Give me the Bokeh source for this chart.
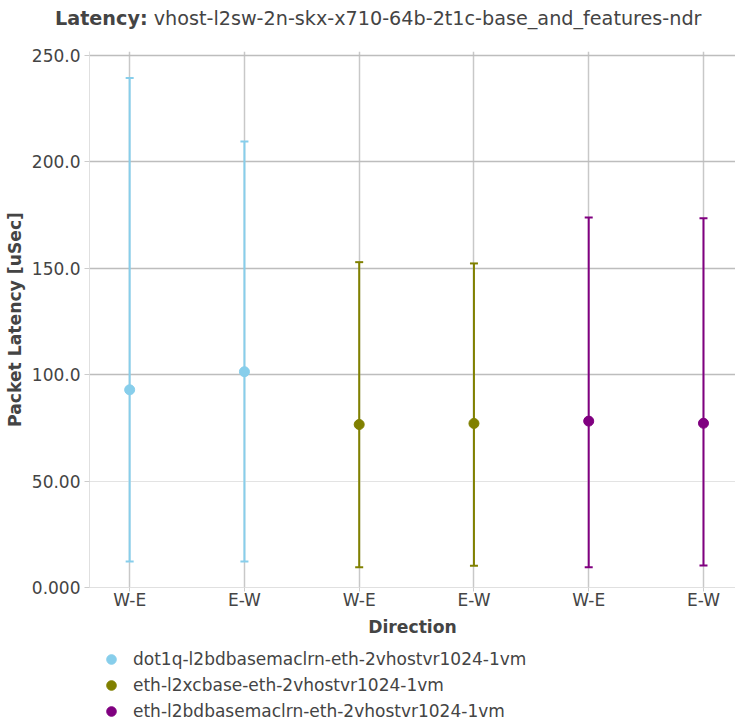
from bokeh.plotting import figure
from bokeh.models import Range1d, FixedTicker, Grid, Legend, LegendItem, ColumnDataSource, Div
from bokeh.layouts import column
from bokeh.embed import file_html
from bokeh.resources import INLINE

# ---- data ----
directions = ["W-E", "E-W"]
series_names = [
    "dot1q-l2bdbasemaclrn-eth-2vhostvr1024-1vm",
    "eth-l2xcbase-eth-2vhostvr1024-1vm",
    "eth-l2bdbasemaclrn-eth-2vhostvr1024-1vm",
]
series_colors = ["#87ceeb", "#808000", "#800080"]
avg_dot1q = [92.9, 101.4]
min_dot1q = [12.2, 12.2]
max_dot1q = [239.4, 209.6]
avg_l2xc = [76.6, 77.1]
min_l2xc = [9.5, 10.2]
max_l2xc = [152.9, 152.3]
avg_l2bd = [78.2, 77.2]
min_l2bd = [9.5, 10.3]
max_l2bd = [173.9, 173.5]
y_ticks = [0, 50, 100, 150, 200, 250]
y_tick_labels = ["0.000", "50.00", "100.0", "150.0", "200.0", "250.0"]
title_bold = "Latency:"
title_rest = "vhost-l2sw-2n-skx-x710-64b-2t1c-base_and_features-ndr"
x_title = "Direction"
y_title = "Packet Latency [uSec]"

FONT = "DejaVu Sans"
TXT = "#444444"
TICK_FS = "17px"
AXIS_FS = "17.2px"
LEG_FS = "17px"

W, H = 735, 723
TITLE_H = 38          # title strip
MAIN_BOTTOM = 640     # page y where the main figure ends and legend strip starts
x_lo, x_hi = -0.35, 5.279
y_lo, y_hi = 0.0, 251.9
# frame in page pixels
FL, FR, FT, FB = 89, 735, 51, 587

title_div = Div(
    text=(f'<div style="white-space:nowrap;font-family:\'{FONT}\';font-size:19.2px;'
          f'color:{TXT};line-height:{TITLE_H}px;padding-left:55px">'
          f'<b>{title_bold}</b> {title_rest}</div>'),
    width=W, height=TITLE_H, margin=0)

p = figure(width=W, height=MAIN_BOTTOM - TITLE_H, output_backend="svg",
           toolbar_location=None, title_location=None,
           x_range=Range1d(x_lo, x_hi), y_range=Range1d(y_lo, y_hi),
           min_border_left=FL, min_border_right=W - FR,
           min_border_top=FT - TITLE_H, min_border_bottom=MAIN_BOTTOM - FB)
p.outline_line_color = None
p.background_fill_color = "white"

n_dir = len(directions)
all_series = [
    (avg_dot1q, min_dot1q, max_dot1q),
    (avg_l2xc, min_l2xc, max_l2xc),
    (avg_l2bd, min_l2bd, max_l2bd),
]
tick_pos = []
tick_lab = {}
sources = []
for si, (avg, lo, hi) in enumerate(all_series):
    xs = [si * n_dir + k for k in range(n_dir)]
    for k, x in enumerate(xs):
        tick_pos.append(x)
        tick_lab[x] = directions[k]
    src = ColumnDataSource(dict(x=xs, avg=avg, lo=lo, hi=hi))
    sources.append(src)
    c = series_colors[si]
    p.segment(x0="x", y0="lo", x1="x", y1="hi", source=src, line_color=c, line_width=2)
    p.scatter(x="x", y="lo", source=src, marker="dash", size=8, line_color=c, line_width=2)
    p.scatter(x="x", y="hi", source=src, marker="dash", size=8, line_color=c, line_width=2)
    p.scatter(x="x", y="avg", source=src, marker="circle", size=10,
              fill_color=c, line_color=c)

# grids
p.xgrid.ticker = FixedTicker(ticks=tick_pos)
p.xgrid.grid_line_color = "#c8c8c8"
p.xgrid.grid_line_width = 1.5
p.ygrid.ticker = FixedTicker(ticks=[t for t in y_ticks if t >= 100])
p.ygrid.grid_line_color = "#bdbdbd"
p.ygrid.grid_line_width = 1.5
p.add_layout(Grid(dimension=1, ticker=FixedTicker(ticks=[50]),
                  grid_line_color="#e3e3e3", grid_line_width=1))

# axes
xa = p.xaxis[0]
xa.ticker = FixedTicker(ticks=tick_pos)
xa.major_label_overrides = tick_lab
xa.axis_label = x_title
xa.axis_line_color = "#e0e0e0"
xa.major_tick_line_color = "#cccccc"
xa.major_tick_out = 4
xa.major_tick_in = 0
xa.minor_tick_line_color = None
xa.major_label_standoff = -2
xa.axis_label_standoff = 4

ya = p.yaxis[0]
ya.ticker = FixedTicker(ticks=y_ticks)
ya.major_label_overrides = {t: l for t, l in zip(y_ticks, y_tick_labels)}
ya.axis_label = y_title
ya.axis_line_color = "#e0e0e0"
ya.major_tick_line_color = "#cccccc"
ya.major_tick_out = 5
ya.major_tick_in = 0
ya.minor_tick_line_color = None
ya.major_label_standoff = 4
ya.axis_label_standoff = 4

for ax in (xa, ya):
    ax.major_label_text_font = FONT
    ax.major_label_text_font_size = TICK_FS
    ax.major_label_text_color = TXT
    ax.axis_label_text_font = FONT
    ax.axis_label_text_font_size = AXIS_FS
    ax.axis_label_text_font_style = "bold"
    ax.axis_label_text_color = TXT

# ---- legend strip ----
LEG_H = H - MAIN_BOTTOM
pl = figure(width=W, height=LEG_H, output_backend="svg", toolbar_location=None,
            title_location=None, x_axis_location=None, y_axis_location=None,
            x_range=Range1d(0, 1), y_range=Range1d(0, 1), min_border=0)
pl.outline_line_color = None
for g in pl.grid:
    g.visible = False
legend_items = []
for si, name in enumerate(series_names):
    r = pl.scatter(x="x", y="avg", source=sources[si], marker="circle", size=10,
                   fill_color=series_colors[si], line_color=series_colors[si],
                   visible=False)
    legend_items.append(LegendItem(label=name, renderers=[r]))
legend = Legend(items=legend_items, location=(10, 0), orientation="vertical",
                padding=0, margin=0, spacing=2, glyph_width=24, glyph_height=24,
                label_height=24, label_standoff=10, border_line_color=None,
                background_fill_alpha=0, label_text_font=FONT,
                label_text_font_size=LEG_FS, label_text_color=TXT,
                click_policy="none")
pl.add_layout(legend, "center")

layout = column(title_div, p, pl, spacing=0)
open("out.html", "w").write(file_html(layout, INLINE))
